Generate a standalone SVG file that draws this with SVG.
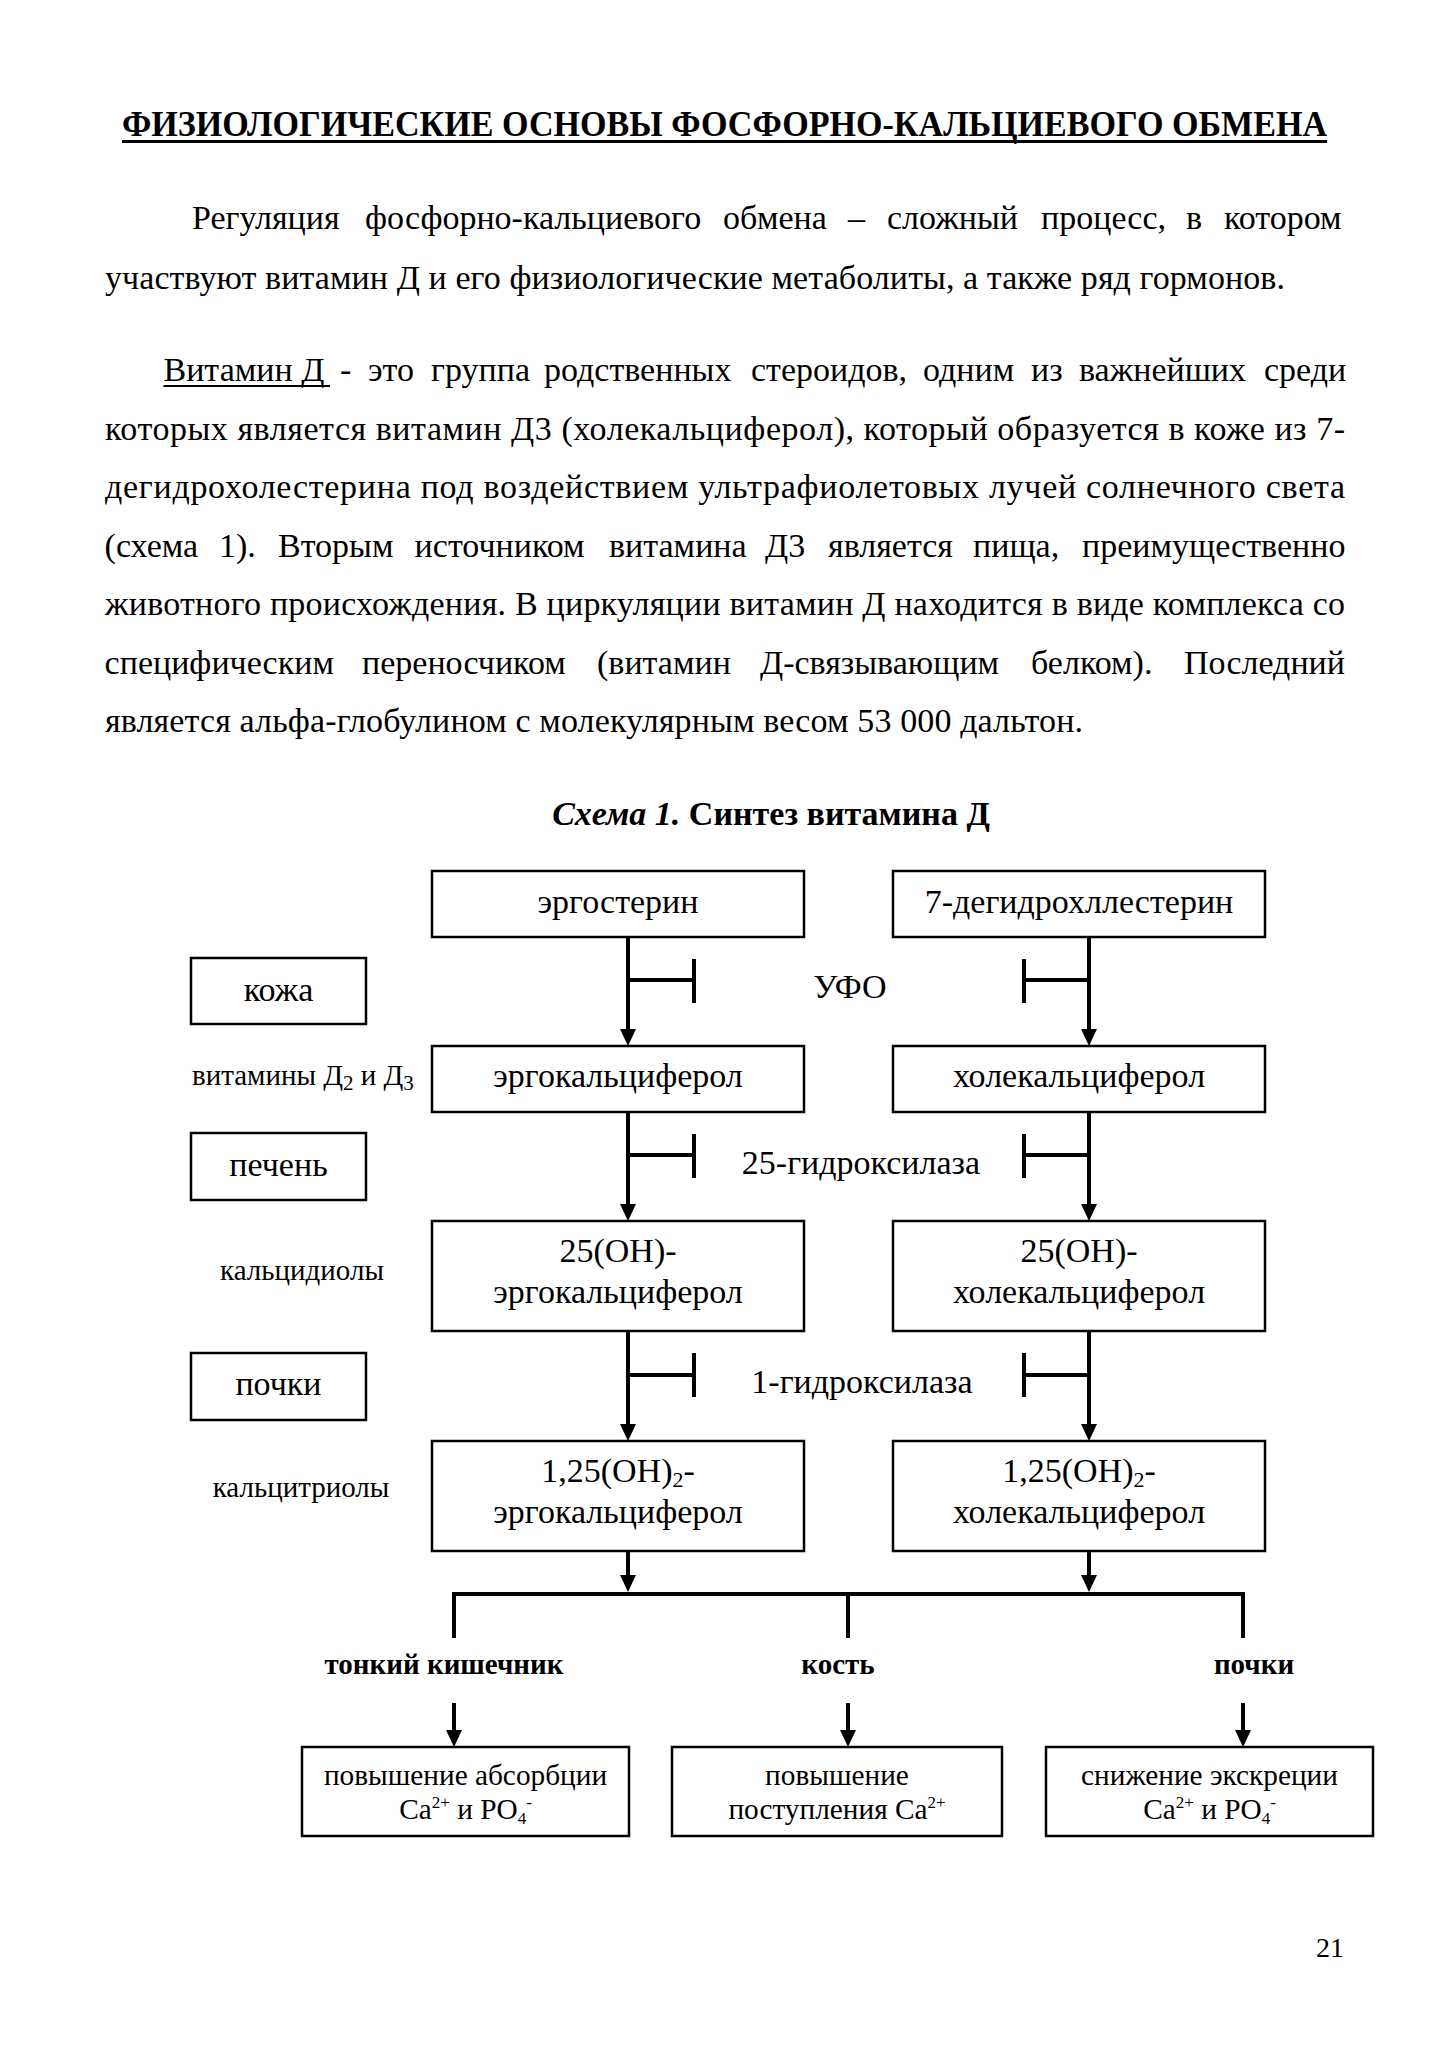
<svg xmlns="http://www.w3.org/2000/svg" width="1449" height="2050" viewBox="0 0 1449 2050">
<style>
text{font-family:"Liberation Serif","Times New Roman",serif;fill:#000}
.body{font-size:34px}
.t{font-size:34px;text-anchor:middle}
.lab{font-size:29px}
.sm{font-size:29.3px;text-anchor:middle}
.bl{font-size:29px;font-weight:bold;text-anchor:middle}
.box{fill:#fff;stroke:#000;stroke-width:2.5}
.ln{stroke:#000;stroke-width:4;fill:none}
</style>
<defs>
<marker id="ah" markerWidth="17" markerHeight="16" refX="5" refY="8" orient="auto" markerUnits="userSpaceOnUse" viewBox="0 0 17 16">
<path d="M0,0 L17,8 L0,16 Z" fill="#000"/>
</marker>
</defs>
<rect width="1449" height="2050" fill="#fff"/>

<!-- Title and body text -->
<g id="text-body">
<text x="122" y="136" font-size="35" font-weight="bold" textLength="1205" lengthAdjust="spacingAndGlyphs">ФИЗИОЛОГИЧЕСКИЕ ОСНОВЫ ФОСФОРНО-КАЛЬЦИЕВОГО ОБМЕНА</text>
<line x1="122" y1="141.5" x2="1327" y2="141.5" stroke="#000" stroke-width="3"/>

<text class="body" y="229"><tspan x="192">Регуляция</tspan><tspan x="365">фосфорно-кальциевого</tspan><tspan x="723">обмена</tspan><tspan x="848">–</tspan><tspan x="887">сложный</tspan><tspan x="1041">процесс,</tspan><tspan x="1186">в</tspan><tspan x="1224">котором</tspan></text>
<text class="body" x="105" y="289" textLength="1180" lengthAdjust="spacing">участвуют витамин Д и его физиологические метаболиты, а также ряд гормонов.</text>

<text class="body" y="381"><tspan x="163.5">Витамин Д</tspan><tspan x="340">-</tspan><tspan x="368">это</tspan><tspan x="431">группа</tspan><tspan x="544">родственных</tspan><tspan x="751">стероидов,</tspan><tspan x="923">одним</tspan><tspan x="1031">из</tspan><tspan x="1079">важнейших</tspan><tspan x="1264">среди</tspan></text>
<line x1="163.5" y1="386" x2="330" y2="386" stroke="#000" stroke-width="2"/>
<text class="body" x="105" y="439.5" textLength="1240" lengthAdjust="spacing">которых является  витамин Д3 (холекальциферол), который образуется в коже из 7-</text>
<text class="body" x="105" y="498" textLength="1240" lengthAdjust="spacing">дегидрохолестерина под воздействием ультрафиолетовых  лучей солнечного света</text>
<text class="body" y="556.5"><tspan x="104.6">(схема</tspan><tspan x="219">1).</tspan><tspan x="278">Вторым</tspan><tspan x="414.6">источником</tspan><tspan x="609">витамина</tspan><tspan x="765">Д3</tspan><tspan x="828">является</tspan><tspan x="973">пища,</tspan><tspan x="1082">преимущественно</tspan></text>
<text class="body" x="105" y="615" textLength="1240" lengthAdjust="spacing">животного происхождения. В циркуляции витамин Д находится в виде комплекса со</text>
<text class="body" y="673.5"><tspan x="104.6">специфическим</tspan><tspan x="362">переносчиком</tspan><tspan x="597">(витамин</tspan><tspan x="760">Д-связывающим</tspan><tspan x="1031">белком).</tspan><tspan x="1184">Последний</tspan></text>
<text class="body" x="105" y="732" textLength="978" lengthAdjust="spacing">является альфа-глобулином с молекулярным весом 53 000 дальтон.</text>

<text x="771" y="825" font-size="34" font-weight="bold" text-anchor="middle"><tspan font-style="italic">Схема 1.</tspan> Синтез витамина Д</text>

<text x="1330" y="1957" font-size="28" text-anchor="middle">21</text>
</g>

<!-- Connectors -->
<g id="connectors">
<line class="ln" x1="628" y1="937" x2="628" y2="1034" marker-end="url(#ah)"/>
<line class="ln" x1="1089" y1="937" x2="1089" y2="1034" marker-end="url(#ah)"/>
<line class="ln" x1="628" y1="1112" x2="628" y2="1209" marker-end="url(#ah)"/>
<line class="ln" x1="1089" y1="1112" x2="1089" y2="1209" marker-end="url(#ah)"/>
<line class="ln" x1="628" y1="1331" x2="628" y2="1429" marker-end="url(#ah)"/>
<line class="ln" x1="1089" y1="1331" x2="1089" y2="1429" marker-end="url(#ah)"/>
<line class="ln" x1="628" y1="1551" x2="628" y2="1580" marker-end="url(#ah)"/>
<line class="ln" x1="1089" y1="1551" x2="1089" y2="1580" marker-end="url(#ah)"/>

<!-- inhibition T marks -->
<path class="ln" d="M628,980 H694 M694,959 V1003 M1089,980 H1024 M1024,959 V1003"/>
<path class="ln" d="M628,1155 H694 M694,1134 V1178 M1089,1155 H1024 M1024,1134 V1178"/>
<path class="ln" d="M628,1375 H694 M694,1353 V1397 M1089,1375 H1024 M1024,1353 V1397"/>

<!-- bus -->
<path class="ln" d="M454,1638 V1594 H1243 V1638 M848,1594 V1638"/>
<line class="ln" x1="454" y1="1703" x2="454" y2="1735" marker-end="url(#ah)"/>
<line class="ln" x1="848" y1="1703" x2="848" y2="1735" marker-end="url(#ah)"/>
<line class="ln" x1="1243" y1="1703" x2="1243" y2="1735" marker-end="url(#ah)"/>
</g>

<!-- Side labels -->
<g id="side-labels">
<g id="n-kozha"><rect class="box" x="191" y="958" width="175" height="66"/><text class="t" x="278.5" y="1001">кожа</text></g>
<g id="n-pechen"><rect class="box" x="191" y="1133" width="175" height="67"/><text class="t" x="278.5" y="1176">печень</text></g>
<g id="n-pochki"><rect class="box" x="191" y="1353" width="175" height="67"/><text class="t" x="278.5" y="1395">почки</text></g>
<text class="lab" x="192" y="1085">витамины Д<tspan font-size="21" dy="5">2</tspan><tspan dy="-5"> и Д</tspan><tspan font-size="21" dy="5">3</tspan></text>
<text class="lab" x="302" y="1280" text-anchor="middle">кальцидиолы</text>
<text class="lab" x="301" y="1497" text-anchor="middle">кальцитриолы</text>
<text class="t" x="850" y="998">УФО</text>
<text class="t" x="861" y="1174">25-гидроксилаза</text>
<text class="t" x="862" y="1393">1-гидроксилаза</text>
</g>

<!-- Main nodes -->
<g id="n-ergosterin"><rect class="box" x="432" y="871" width="372" height="66"/><text class="t" x="618" y="913">эргостерин</text></g>
<g id="n-7dhc"><rect class="box" x="893" y="871" width="372" height="66"/><text class="t" x="1079" y="913">7-дегидрохллестерин</text></g>
<g id="n-ergocalc"><rect class="box" x="432" y="1046" width="372" height="66"/><text class="t" x="618" y="1087">эргокальциферол</text></g>
<g id="n-cholecalc"><rect class="box" x="893" y="1046" width="372" height="66"/><text class="t" x="1079" y="1087">холекальциферол</text></g>
<g id="n-25-ergo"><rect class="box" x="432" y="1221" width="372" height="110"/><text class="t" x="618" y="1262">25(OH)-</text><text class="t" x="618" y="1303">эргокальциферол</text></g>
<g id="n-25-chole"><rect class="box" x="893" y="1221" width="372" height="110"/><text class="t" x="1079" y="1262">25(OH)-</text><text class="t" x="1079" y="1303">холекальциферол</text></g>
<g id="n-125-ergo"><rect class="box" x="432" y="1441" width="372" height="110"/><text class="t" x="618" y="1482">1,25(OH)<tspan font-size="22" dy="5">2</tspan><tspan dy="-5">-</tspan></text><text class="t" x="618" y="1523">эргокальциферол</text></g>
<g id="n-125-chole"><rect class="box" x="893" y="1441" width="372" height="110"/><text class="t" x="1079" y="1482">1,25(OH)<tspan font-size="22" dy="5">2</tspan><tspan dy="-5">-</tspan></text><text class="t" x="1079" y="1523">холекальциферол</text></g>

<!-- Target labels -->
<g id="targets">
<text class="bl" x="444" y="1674">тонкий кишечник</text>
<text class="bl" x="838" y="1674">кость</text>
<text class="bl" x="1254" y="1674">почки</text>
</g>

<!-- Effect nodes -->
<g id="n-eff1"><rect class="box" x="302" y="1747" width="327" height="89"/><text class="sm" x="465.5" y="1785">повышение абсорбции</text><text class="sm" x="465.5" y="1819">Ca<tspan font-size="17" dy="-11">2+</tspan><tspan dy="11"> и PO</tspan><tspan font-size="17" dy="5">4</tspan><tspan font-size="17" dy="-16">-</tspan></text></g>
<g id="n-eff2"><rect class="box" x="672" y="1747" width="330" height="89"/><text class="sm" x="837" y="1785">повышение</text><text class="sm" x="837" y="1819">поступления Ca<tspan font-size="17" dy="-11">2+</tspan></text></g>
<g id="n-eff3"><rect class="box" x="1046" y="1747" width="327" height="89"/><text class="sm" x="1209.5" y="1785">снижение экскреции</text><text class="sm" x="1209.5" y="1819">Ca<tspan font-size="17" dy="-11">2+</tspan><tspan dy="11"> и PO</tspan><tspan font-size="17" dy="5">4</tspan><tspan font-size="17" dy="-16">-</tspan></text></g>
</svg>
